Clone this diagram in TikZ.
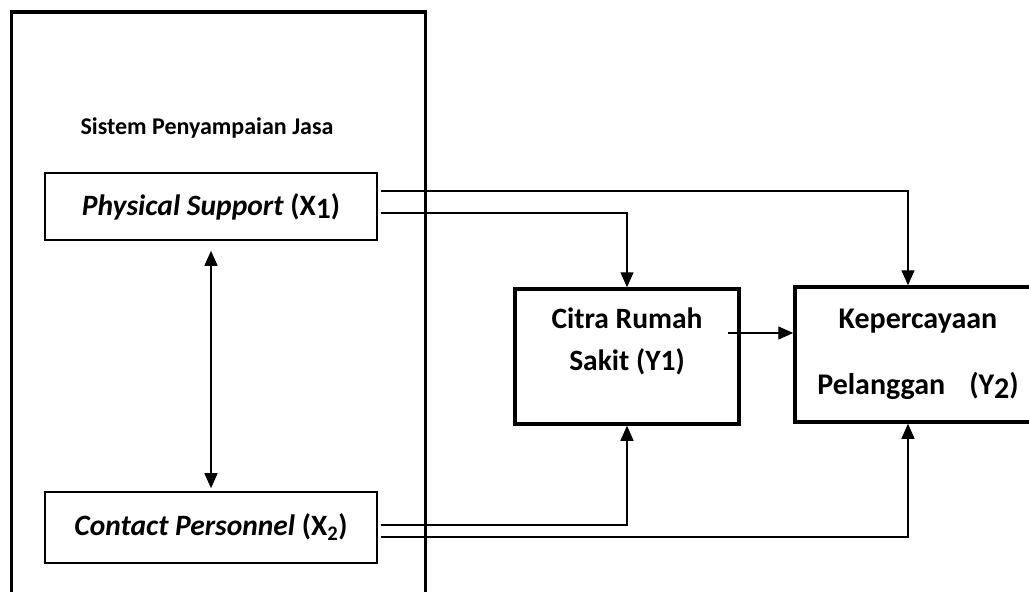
\documentclass[tikz,border=0pt]{standalone}
\usepackage{fontspec}
\setmainfont{Carlito}
\usetikzlibrary{arrows.meta}
\begin{document}
\begin{tikzpicture}[x=1pt,y=-1pt,
  thinbox/.style={draw, line width=1.6pt, inner sep=0pt},
  thickbox/.style={draw, line width=3.5pt, inner sep=0pt},
  tip/.tip={Triangle[length=15pt,width=13pt]},
  conn/.style={line width=1.4pt, -tip},
  lbl/.style={font=\fontsize{29.5}{35}\selectfont\bfseries, inner sep=0pt}]
\useasboundingbox (0,0) rectangle (1029,592);
\clip (0,0) rectangle (1029,592);
% outer frame (open at the bottom)
\draw[line width=3.5pt] (11.5,600) -- (11.5,12) -- (425.5,12) -- (425.5,600);
\node[font=\fontsize{24}{28}\selectfont\bfseries, inner sep=0pt] (title) at (207,128) {Sistem Penyampaian Jasa};
% boxes
\node[thinbox, minimum width=332pt, minimum height=67pt, lbl] (ps) at (211,206.5)
  {\textit{Physical Support} (X\raisebox{-0.12em}{1})};
\node[thinbox, minimum width=332pt, minimum height=71pt, lbl] (cp) at (211,527.5)
  {\textit{Contact Personnel} (X\textsubscript{2})};
\node[thickbox, minimum width=224pt, minimum height=135pt] (citra) at (627,356.5) {};
\node[font=\fontsize{29.5}{42}\selectfont\bfseries, align=center, inner sep=0pt] (citratxt) at (627,341)
  {Citra Rumah\\Sakit (Y1)};
\node[thickbox, minimum width=246pt, minimum height=135pt, align=center,
  font=\fontsize{30}{35}\selectfont\bfseries] (kep) at (918,354.5)
  {Kepercayaan\\[31pt]Pelanggan\hspace{0.8em}(Y\raisebox{-0.12em}{2})};
% connector start points
\coordinate (ps1) at (381,191);
\coordinate (ps2) at (381,213);
\coordinate (cp1) at (381,525);
\coordinate (cp2) at (381,537);
\coordinate (c2k) at (728,333);
% connectors
\draw[conn] (ps1) -| ([xshift=-10pt]kep.north);
\draw[conn] (ps2) -| (citra.north);
\draw[conn] (cp1) -| (citra.south);
\draw[conn] (cp2) -| ([xshift=-10pt]kep.south);
\draw[conn] (c2k) -- (c2k -| kep.west);
\draw[line width=1.4pt, tip-tip] ([yshift=-10pt]ps.south) -- ([yshift=3pt]cp.north);
\end{tikzpicture}
\end{document}
